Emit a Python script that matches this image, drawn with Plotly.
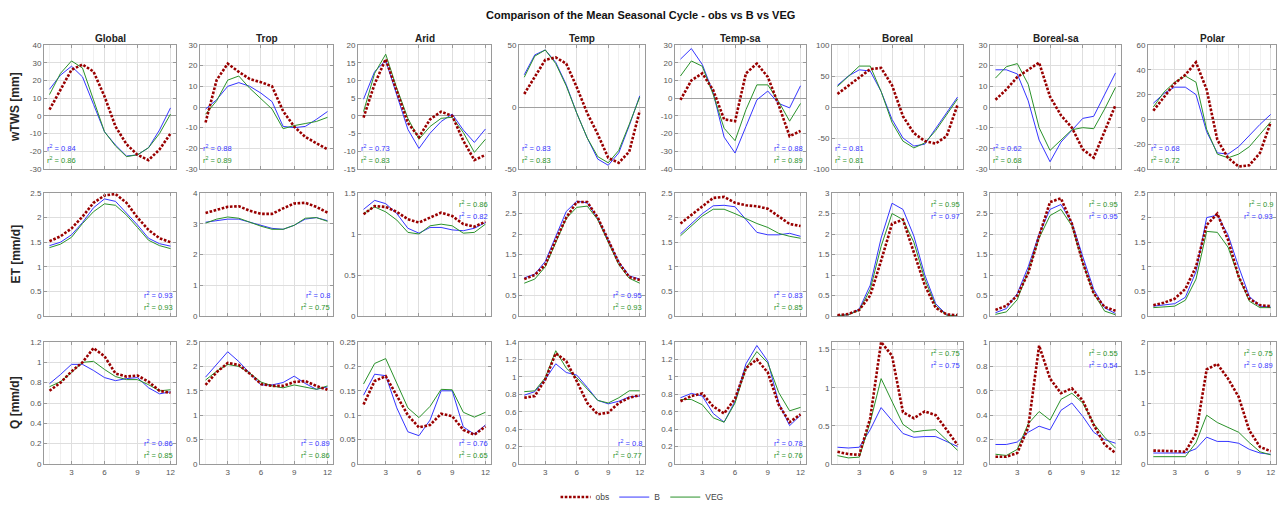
import plotly.graph_objects as go

months = list(range(1, 13))
regions = ["Global", "Trop", "Arid", "Temp", "Temp-sa", "Boreal", "Boreal-sa", "Polar"]
row_labels = ["wTWS [mm]", "ET [mm/d]", "Q [mm/d]"]
series_names = ["obs", "B", "VEG"]

# ---------------- wTWS [mm] ----------------
tws_obs = [
    [3.5, 15, 26, 29, 25, 11, -6, -16, -22, -25, -19, -10],
    [-7.5, 13, 21, 17, 13.5, 12, 10, -2, -9.5, -14.5, -17.5, -20.5],
    [-0.5, 9, 16, 7, -2, -6, -1, 1.2, 0, -7, -12.5, -11],
    [10.5, 24.5, 38, 40, 35, 16, -5, -22, -41, -45, -36, -3],
    [-1, 10, 14, 4.5, -12, -13, 14, 19.5, 12, -4, -21.5, -18.5],
    [21, 34, 48, 61, 63, 35, -15, -42, -55, -59, -47, 3.5],
    [3.5, 8.5, 14.5, 18, 21.5, 5, -4, -10, -20.5, -24.5, -12, 1],
    [7, 18, 29, 36, 46, 24, -16.5, -31, -38, -37, -27, -2.5],
]
tws_B = [
    [15, 23, 28, 22, 6.5, -9, -16.5, -22.7, -22, -18, -8, 4.5],
    [-1, 3.5, 10, 11.8, 10, 6.7, 2.6, -9.4, -10, -9.4, -6, -2.2],
    [4.7, 12.5, 15.6, 6, -3.8, -9.2, -4.9, -1.6, 0.5, -4, -7.5, -3.7],
    [26, 42, 46, 36, 18, -5, -25, -42, -47, -37, -15, 9],
    [22, 28, 19, 3, -22, -31, -16, -1, 4, -3, -5.5, 7],
    [35, 50, 60, 58, 25, -20, -50, -63, -60, -35, -10, 16],
    [18, 18, 16, 3, -16, -26.5, -17, -11, -5.5, -4.5, 6, 16.5],
    [13, 21, 26, 26, 20, -10, -27, -28, -22, -13, -4, 4],
]
tws_VEG = [
    [12, 24, 31, 27, 9, -9, -17, -23, -22, -18, -10, 1],
    [-3.5, 3, 13, 15, 9, 4, -1, -10.5, -9, -8, -7, -5],
    [1.2, 12, 17.4, 7.8, -0.7, -6.6, -3, -0.7, -0.4, -4.7, -10.3, -6.6],
    [24, 41, 46, 35, 17, -5, -25, -40, -45, -35, -14, 8],
    [12.5, 21, 18, 2, -17, -24, -6.5, 7.5, 7.5, -2, -13, -3],
    [33, 50, 66, 66, 25, -25, -55, -66, -58, -38, -12, 13],
    [14, 19.5, 21, 11, -10, -21, -16, -11, -10, -10.5, -1, 9.5],
    [10, 22, 30, 35, 30, -8, -28, -31, -28, -22, -12, -2],
]
tws_r2_B = [0.84, 0.88, 0.73, 0.83, 0.88, 0.81, 0.62, 0.68]
tws_r2_VEG = [0.86, 0.89, 0.83, 0.83, 0.89, 0.81, 0.68, 0.72]

# ---------------- ET [mm/d] ----------------
et_obs = [
    [1.52, 1.62, 1.78, 2.02, 2.3, 2.45, 2.48, 2.3, 2.0, 1.75, 1.58, 1.5],
    [3.35, 3.45, 3.55, 3.57, 3.42, 3.32, 3.32, 3.5, 3.66, 3.68, 3.55, 3.36],
    [1.24, 1.34, 1.33, 1.27, 1.18, 1.14, 1.2, 1.26, 1.22, 1.12, 1.09, 1.15],
    [0.9, 1.0, 1.25, 1.85, 2.4, 2.78, 2.78, 2.4, 1.85, 1.3, 0.95, 0.88],
    [1.88, 2.05, 2.22, 2.4, 2.42, 2.3, 2.25, 2.23, 2.18, 2.02, 1.87, 1.83],
    [0.02, 0.05, 0.15, 0.5, 1.35, 2.25, 2.35, 1.55, 0.75, 0.2, 0.04, 0.02],
    [0.15, 0.25, 0.5, 1.05, 1.95, 2.78, 2.87, 2.25, 1.3, 0.55, 0.22, 0.13],
    [0.22, 0.27, 0.35, 0.55, 1.0, 1.85, 2.08, 1.55, 0.8, 0.35, 0.22, 0.2],
]
et_B = [
    [1.43, 1.5, 1.65, 1.9, 2.2, 2.38, 2.33, 2.1, 1.85, 1.58, 1.47, 1.42],
    [3.05, 3.1, 3.15, 3.15, 3.05, 2.95, 2.85, 2.82, 2.95, 3.15, 3.2, 3.1],
    [1.3, 1.41, 1.37, 1.25, 1.07, 1.01, 1.08, 1.08, 1.05, 1.04, 1.07, 1.14],
    [0.93, 1.02, 1.33, 1.95, 2.55, 2.8, 2.76, 2.38, 1.85, 1.32, 0.98, 0.9],
    [1.67, 1.88, 2.08, 2.24, 2.25, 2.22, 1.95, 1.7, 1.65, 1.65, 1.68, 1.62],
    [0.01, 0.03, 0.17, 0.75, 1.9, 2.75, 2.6, 1.95, 1.0, 0.3, 0.03, 0.0],
    [0.08, 0.18, 0.55, 1.2, 2.0, 2.6, 2.72, 2.28, 1.45, 0.65, 0.2, 0.06],
    [0.2, 0.23, 0.25, 0.38, 0.9, 2.0, 2.05, 1.65, 1.0, 0.4, 0.2, 0.18],
]
et_VEG = [
    [1.39, 1.46, 1.6, 1.88, 2.12, 2.28, 2.25, 2.05, 1.8, 1.54, 1.43, 1.37],
    [3.02, 3.15, 3.22, 3.18, 3.05, 2.92, 2.82, 2.82, 2.95, 3.18, 3.2, 3.08],
    [1.25, 1.33, 1.27, 1.17, 1.02, 1.0, 1.1, 1.12, 1.1, 1.01, 1.02, 1.12],
    [0.8, 0.9, 1.2, 1.8, 2.38, 2.65, 2.68, 2.35, 1.82, 1.25, 0.92, 0.8],
    [1.63, 1.83, 2.03, 2.17, 2.17, 2.08, 1.98, 1.88, 1.8, 1.68, 1.62, 1.58],
    [0.01, 0.03, 0.14, 0.65, 1.7, 2.5, 2.35, 1.8, 0.9, 0.25, 0.02, 0.0],
    [0.04, 0.1, 0.4, 1.1, 1.9, 2.45, 2.6, 2.2, 1.3, 0.55, 0.12, 0.03],
    [0.17, 0.19, 0.2, 0.32, 0.75, 1.72, 1.7, 1.4, 0.8, 0.3, 0.17, 0.17],
]
et_r2_B = [0.93, 0.8, 0.82, 0.95, 0.83, 0.97, 0.95, 0.93]
et_r2_VEG = [0.93, 0.75, 0.86, 0.93, 0.85, 0.95, 0.95, 0.9]

# ---------------- Q [mm/d] ----------------
q_obs = [
    [0.72, 0.8, 0.91, 1.0, 1.14, 1.06, 0.89, 0.86, 0.87, 0.81, 0.72, 0.7],
    [1.62, 1.88, 2.07, 2.03, 1.85, 1.64, 1.6, 1.6, 1.68, 1.7, 1.6, 1.52],
    [0.122, 0.17, 0.18, 0.14, 0.1, 0.075, 0.08, 0.103, 0.098, 0.07, 0.06, 0.077],
    [0.76, 0.78, 0.97, 1.27, 1.18, 0.95, 0.7, 0.57, 0.59, 0.7, 0.76, 0.79],
    [0.72, 0.78, 0.81, 0.66, 0.58, 0.75, 1.1, 1.2, 1.05, 0.68, 0.48, 0.57],
    [0.16, 0.13, 0.12, 0.6, 1.6, 1.42, 0.68, 0.6, 0.69, 0.64, 0.45, 0.25],
    [0.06, 0.06, 0.09, 0.3, 0.97, 0.7, 0.58, 0.62, 0.52, 0.32, 0.16, 0.09],
    [0.22, 0.22, 0.21, 0.2, 0.5, 1.55, 1.64, 1.4, 1.1, 0.55, 0.28, 0.21],
]
q_B = [
    [0.79, 0.88, 0.98, 0.98, 0.92, 0.85, 0.82, 0.84, 0.85, 0.75, 0.69, 0.71],
    [1.78, 2.05, 2.3, 2.1, 1.85, 1.62, 1.62, 1.67, 1.8, 1.65, 1.53, 1.58],
    [0.141, 0.184, 0.181, 0.115, 0.066, 0.058, 0.09, 0.15, 0.15, 0.076, 0.061, 0.08],
    [0.79, 0.83, 0.97, 1.15, 1.05, 1.02, 0.88, 0.73, 0.69, 0.72, 0.77, 0.78],
    [0.76, 0.81, 0.78, 0.58, 0.48, 0.72, 1.15, 1.36, 1.18, 0.7, 0.44, 0.56],
    [0.22, 0.21, 0.22, 0.45, 0.74, 0.57, 0.4, 0.35, 0.36, 0.36, 0.3, 0.23],
    [0.16, 0.16, 0.18, 0.26, 0.31, 0.28, 0.44, 0.5, 0.39, 0.26, 0.2, 0.17],
    [0.18, 0.18, 0.18, 0.18, 0.25, 0.44, 0.37, 0.37, 0.34, 0.24, 0.18, 0.16],
]
q_VEG = [
    [0.76, 0.81, 0.9, 1.0, 1.01, 0.93, 0.86, 0.83, 0.83, 0.78, 0.72, 0.73],
    [1.72, 1.9, 2.04, 2.0, 1.86, 1.68, 1.6, 1.56, 1.62, 1.57, 1.53, 1.6],
    [0.164, 0.206, 0.216, 0.165, 0.115, 0.095, 0.118, 0.153, 0.152, 0.106, 0.096, 0.106],
    [0.83, 0.84, 0.99, 1.3, 1.1, 0.99, 0.86, 0.73, 0.7, 0.76, 0.84, 0.84],
    [0.74, 0.74, 0.68, 0.53, 0.48, 0.7, 1.1, 1.29, 1.16, 0.82, 0.61, 0.65],
    [0.11, 0.08, 0.09, 0.55, 1.12, 0.83, 0.52, 0.42, 0.44, 0.45, 0.32, 0.18],
    [0.08, 0.07, 0.12, 0.33, 0.43, 0.36, 0.53, 0.58, 0.5, 0.33, 0.22, 0.13],
    [0.12, 0.12, 0.12, 0.12, 0.35, 0.8, 0.68, 0.6, 0.52, 0.35, 0.2, 0.15],
]
q_r2_B = [0.86, 0.89, 0.76, 0.8, 0.78, 0.75, 0.54, 0.89]
q_r2_VEG = [0.85, 0.86, 0.65, 0.77, 0.76, 0.75, 0.55, 0.75]

# axis limits and tick steps per panel
tws_ylim = [(-30, 40), (-30, 30), (-15, 20), (-50, 50), (-40, 30), (-100, 100), (-30, 30), (-40, 60)]
tws_dtick = [10, 10, 5, 50, 10, 50, 10, 20]
et_ylim = [(0, 2.5), (0, 4), (0, 1.5), (0, 3), (0, 2.5), (0, 3), (0, 3), (0, 2.5)]
et_dtick = [0.5, 1, 0.5, 0.5, 0.5, 0.5, 0.5, 0.5]
q_ylim = [(0, 1.2), (0, 2.5), (0, 0.25), (0, 1.4), (0, 1.4), (0, 1.6), (0, 1), (0, 2)]
q_dtick = [0.2, 0.5, 0.05, 0.2, 0.2, 0.5, 0.2, 0.5]
x_ticks = [3, 6, 9, 12]

# where the r^2 labels sit in each panel
tws_r2_pos = ["BL", "BL", "BL", "BL", "BR", "BL", "BL", "BL"]
et_r2_pos = ["BR", "BR", "TR", "BR", "BR", "TR", "TR", "TR"]
q_r2_pos = ["BR", "BR", "BR", "BR", "BR", "TR", "TR", "TR"]

rows = [
    (tws_obs, tws_B, tws_VEG, tws_r2_B, tws_r2_VEG, tws_ylim, tws_dtick, tws_r2_pos),
    (et_obs, et_B, et_VEG, et_r2_B, et_r2_VEG, et_ylim, et_dtick, et_r2_pos),
    (q_obs, q_B, q_VEG, q_r2_B, q_r2_VEG, q_ylim, q_dtick, q_r2_pos),
]

# ---------------- layout geometry (pixels) ----------------
W, H = 1280, 505
col_left = [44, 200, 358, 519, 675, 832, 990, 1148]
col_right = [176, 333, 491, 645, 806, 963, 1121, 1276]
row_top = [45, 193, 342]
row_bot = [169, 316, 464]

C_OBS = "#990000"
C_B = "#3535ff"
C_VEG = "#2a922a"
AX_COL = "#9a9a9a"
GRID = "#dedede"
MINOR = "#f0f0f0"
FONT = "Liberation Sans, Arial, sans-serif"
TICK_FONT = dict(family=FONT, size=8, color="#555555")


def fmt(v):
    return "%g" % round(v, 6)


def ticks_for(lo, hi, step):
    vals = []
    n = int((hi - lo) / step + 1e-9)
    for i in range(n + 1):
        vals.append(round(lo + i * step, 6))
    return vals


fig = go.Figure()
layout = {}
annotations = []

for r, (obs, b, veg, r2b, r2v, ylims, dticks, r2pos) in enumerate(rows):
    for c in range(8):
        idx = r * 8 + c + 1
        sfx = "" if idx == 1 else str(idx)
        xref, yref = "x" + sfx, "y" + sfx
        lo, hi = ylims[c]
        yt = ticks_for(lo, hi, dticks[c])
        layout["xaxis" + sfx] = dict(
            domain=[col_left[c] / W, col_right[c] / W], anchor=yref,
            range=[0.5, 12.5], tickmode="array", tickvals=x_ticks,
            ticktext=[str(t) for t in x_ticks], showticklabels=(r == 2),
            ticks="inside", ticklen=3, tickcolor=AX_COL, showline=True,
            linecolor=AX_COL, linewidth=1, mirror="ticks", showgrid=True,
            gridcolor=GRID, gridwidth=1, zeroline=False, tickfont=TICK_FONT,
            minor=dict(tickmode="array", tickvals=months, showgrid=True,
                       gridcolor=MINOR, gridwidth=1, ticks=""),
            automargin=False, fixedrange=True,
        )
        layout["yaxis" + sfx] = dict(
            domain=[1 - row_bot[r] / H, 1 - row_top[r] / H], anchor=xref,
            range=[lo, hi], tickmode="array", tickvals=yt,
            ticktext=[fmt(v) for v in yt], ticks="inside", ticklen=3,
            tickcolor=AX_COL, showline=True, linecolor=AX_COL, linewidth=1,
            mirror="ticks", showgrid=True, gridcolor=GRID, gridwidth=1,
            zeroline=(r == 0), zerolinecolor="#a0a0a0", zerolinewidth=1.3,
            tickfont=TICK_FONT, automargin=False, fixedrange=True,
        )
        first = (idx == 1)
        fig.add_trace(go.Scatter(
            x=months, y=b[c], mode="lines", name="B", xaxis=xref, yaxis=yref,
            line=dict(color=C_B, width=1), showlegend=first, legendrank=2))
        fig.add_trace(go.Scatter(
            x=months, y=veg[c], mode="lines", name="VEG", xaxis=xref, yaxis=yref,
            line=dict(color=C_VEG, width=1), showlegend=first, legendrank=3))
        fig.add_trace(go.Scatter(
            x=months, y=obs[c], mode="lines", name="obs", xaxis=xref, yaxis=yref,
            line=dict(color=C_OBS, width=2.6, dash="2.6px,1.6px"),
            showlegend=first, legendrank=1))

        if r == 0:
            annotations.append(dict(
                text="<b>" + regions[c] + "</b>", xref=xref + " domain",
                yref=yref + " domain", x=0.5, y=1, xanchor="center",
                yanchor="bottom", showarrow=False, yshift=-1,
                font=dict(family=FONT, size=10, color="#222222")))

        tb = "r<sup>2</sup> = " + fmt(r2b[c])
        tv = "r<sup>2</sup> = " + fmt(r2v[c])
        pos = r2pos[c]
        if pos in ("BL", "BR"):
            items = [(tb, C_B, 14), (tv, C_VEG, 2)]
            ya, yy = "bottom", 0
        else:
            items = [(tv, C_VEG, -4), (tb, C_B, -16)]
            ya, yy = "top", 1
        if pos == "BL":
            xx, xa, xs = 0, "left", 1
        else:
            xx, xa, xs = 1, "right", -1
        for txt, col, ys in items:
            annotations.append(dict(
                text=txt, xref=xref + " domain", yref=yref + " domain",
                x=xx, y=yy, xanchor=xa, yanchor=ya, xshift=xs, yshift=ys,
                showarrow=False, font=dict(family=FONT, size=7.5, color=col)))

for r in range(3):
    annotations.append(dict(
        text="<b>" + row_labels[r] + "</b>", xref="paper", yref="paper",
        x=15 / W, y=1 - (row_top[r] + row_bot[r]) / 2 / H, xanchor="center",
        yanchor="middle", textangle=-90, showarrow=False,
        font=dict(family=FONT, size=12, color="#262626")))

annotations.append(dict(
    text="<b>Comparison of the Mean Seasonal Cycle - obs vs B vs VEG</b>",
    xref="paper", yref="paper", x=0.5, y=1 - 15 / H, xanchor="center",
    yanchor="middle", showarrow=False,
    font=dict(family=FONT, size=11, color="#111111")))

fig.update_layout(
    **layout,
    annotations=annotations,
    width=W, height=H,
    margin=dict(l=0, r=0, t=0, b=0, autoexpand=False),
    paper_bgcolor="white", plot_bgcolor="white",
    showlegend=True,
    legend=dict(orientation="h", x=0.5016, xanchor="center", y=-0.013,
                yanchor="bottom", font=dict(family=FONT, size=8.5, color="#444444"),
                bgcolor="rgba(0,0,0,0)", traceorder="normal", itemwidth=30),
    font=dict(family=FONT),
)

fig.write_html(
    "out.html",
    config={"displayModeBar": False},
    post_script="document.body.style.margin='0px';document.body.style.overflow='hidden';",
)
